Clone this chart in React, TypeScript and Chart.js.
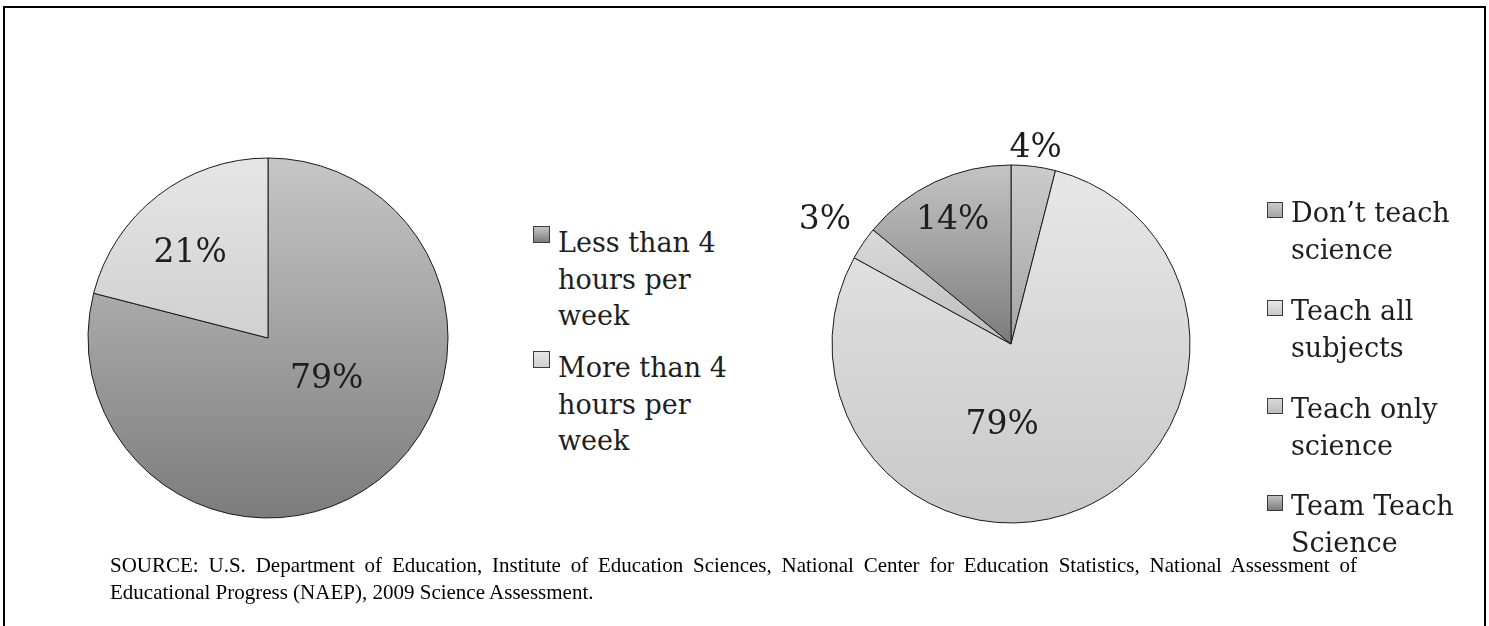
import React, { useEffect, useRef } from "react";
import { Chart, registerables } from "chart.js";

Chart.register(...registerables);

// ---------- DATA ----------
const hoursLabels = ["Less than 4 hours per week", "More than 4 hours per week"];
const hoursLegendLines = [
  ["Less than 4", "hours per", "week"],
  ["More than 4", "hours per", "week"],
];
const hoursValues = [79, 21];

const teachLabels = [
  "Don’t teach science",
  "Teach all subjects",
  "Teach only science",
  "Team Teach Science",
];
const teachLegendLines = [
  ["Don’t teach", "science"],
  ["Teach all", "subjects"],
  ["Teach only", "science"],
  ["Team Teach", "Science"],
];
const teachValues = [4, 79, 3, 14];

const sourceLine1 =
  "SOURCE: U.S. Department of Education, Institute of Education Sciences, National Center for Education Statistics, National Assessment of";
const sourceLine2 = "Educational Progress (NAEP), 2009 Science Assessment.";

// ---------- STYLE ----------
const hoursColors = [
  ["#c6c6c6", "#7c7c7c"],
  ["#e6e6e6", "#d0d0d0"],
];
const teachColors = [
  ["#cbcbcb", "#a4a4a4"],
  ["#e7e7e7", "#c8c8c8"],
  ["#dadada", "#bdbdbd"],
  ["#c4c4c4", "#7c7c7c"],
];

// label placement: distance as fraction of radius, angular shift (deg)
const hoursPlacement = [
  { dist: 0.4, shift: -16.8 },
  { dist: 0.64, shift: -4.7 },
];
const teachPlacement = [
  { dist: 1.1, shift: 0 },
  { dist: 0.455, shift: 29.7 },
  { dist: 1.246, shift: -0.7 },
  { dist: 0.765, shift: 0 },
];

function sliceGradient(colors: string[][]) {
  return (c: any) => {
    const chart = c.chart;
    const area = chart.chartArea;
    const i = c.dataIndex;
    if (!area || i === undefined || c.type !== "data") return colors[0][0];
    const data = chart.data.datasets[c.datasetIndex].data as number[];
    const total = data.reduce((a, b) => a + b, 0);
    let cum = 0;
    for (let k = 0; k < i; k++) cum += data[k];
    const a0 = -Math.PI / 2 + (2 * Math.PI * cum) / total;
    const a1 = a0 + (2 * Math.PI * data[i]) / total;
    const cy = (area.top + area.bottom) / 2;
    const r = (Math.min(area.width, area.height) - 1) / 2;
    const ys = [cy, cy + r * Math.sin(a0), cy + r * Math.sin(a1)];
    for (const k of [-Math.PI / 2, Math.PI / 2, (3 * Math.PI) / 2]) {
      if (k >= a0 - 1e-9 && k <= a1 + 1e-9) ys.push(cy + r * Math.sin(k));
    }
    const g = chart.ctx.createLinearGradient(0, Math.min(...ys), 0, Math.max(...ys));
    g.addColorStop(0, colors[i][0]);
    g.addColorStop(1, colors[i][1]);
    return g;
  };
}

function makeLabelPlugin(placement: { dist: number; shift: number }[]) {
  return {
    id: "sliceLabels",
    afterDatasetsDraw(chart: any) {
      const ctx = chart.ctx;
      const meta = chart.getDatasetMeta(0);
      const values = chart.data.datasets[0].data as number[];
      ctx.save();
      ctx.font = '33px "DejaVu Serif"';
      ctx.fillStyle = "#1e1e1e";
      ctx.textAlign = "center";
      ctx.textBaseline = "middle";
      meta.data.forEach((arc: any, i: number) => {
        const { x, y, startAngle, endAngle, outerRadius } = arc.getProps(
          ["x", "y", "startAngle", "endAngle", "outerRadius"],
          true
        );
        const p = placement[i];
        const mid = (startAngle + endAngle) / 2 + (p.shift * Math.PI) / 180;
        const d = outerRadius * p.dist;
        ctx.fillText(values[i] + "%", x + Math.cos(mid) * d, y + Math.sin(mid) * d);
      });
      ctx.restore();
    },
  };
}

function PieChart(props: {
  values: number[];
  labels: string[];
  colors: string[][];
  placement: { dist: number; shift: number }[];
  size: number;
  left: number;
  top: number;
  radius: number;
}) {
  const ref = useRef<HTMLCanvasElement>(null);
  useEffect(() => {
    const pad = (props.size - (2 * props.radius + 1)) / 2;
    const chart = new Chart(ref.current as HTMLCanvasElement, {
      type: "pie",
      data: {
        labels: props.labels,
        datasets: [
          {
            data: props.values,
            backgroundColor: sliceGradient(props.colors) as any,
            borderColor: "#1a1a1a",
            borderWidth: 1,
          },
        ],
      },
      options: {
        responsive: false,
        maintainAspectRatio: false,
        animation: false,
        events: [],
        layout: { padding: pad },
        plugins: { legend: { display: false }, tooltip: { enabled: false } },
      },
      plugins: [makeLabelPlugin(props.placement)],
    });
    return () => chart.destroy();
  }, []);
  return (
    <canvas
      ref={ref}
      width={props.size}
      height={props.size}
      style={{ position: "absolute", left: props.left, top: props.top, width: props.size, height: props.size }}
    />
  );
}

function Legend(props: {
  items: string[][];
  colors: string[][];
  left: number;
  top: number;
  lineHeight: number;
  gap: number;
  textLeft: number;
  markerTop: number;
  markerSize: number;
}) {
  return (
    <div
      style={{
        position: "absolute",
        left: props.left,
        top: props.top,
        fontFamily: '"DejaVu Serif", serif',
        fontSize: 27,
        lineHeight: props.lineHeight + "px",
        color: "#1e1e1e",
        zIndex: 2,
      }}
    >
      {props.items.map((lines, i) => (
        <div key={i} style={{ position: "relative", paddingLeft: props.textLeft, marginTop: i ? props.gap : 0 }}>
          <span
            style={{
              position: "absolute",
              left: 0,
              top: props.markerTop,
              width: props.markerSize,
              height: props.markerSize,
              boxSizing: "border-box",
              border: "1px solid #3a3a3a",
              background: `linear-gradient(${props.colors[i][0]}, ${props.colors[i][1]})`,
            }}
          />
          {lines.map((l, j) => (
            <div key={j} style={{ whiteSpace: "nowrap" }}>
              {l}
            </div>
          ))}
        </div>
      ))}
    </div>
  );
}

export default function App() {
  return (
    <div
      style={{
        position: "fixed",
        left: 0,
        top: 0,
        width: 1489,
        height: 626,
        overflow: "hidden",
        background: "#fff",
      }}
    >
      <div
        style={{
          position: "absolute",
          left: 3,
          top: 6,
          width: 1479,
          height: 700,
          border: "2px solid #000",
        }}
      />
      <PieChart
        values={hoursValues}
        labels={hoursLabels}
        colors={hoursColors}
        placement={hoursPlacement}
        size={520}
        left={8}
        top={78}
        radius={180}
      />
      <PieChart
        values={teachValues}
        labels={teachLabels}
        colors={teachColors}
        placement={teachPlacement}
        size={560}
        left={731}
        top={64}
        radius={179}
      />
      <Legend
        items={hoursLegendLines}
        colors={hoursColors}
        left={533}
        top={225.4}
        lineHeight={36.5}
        gap={15.5}
        textLeft={25}
        markerTop={1}
        markerSize={17}
      />
      <Legend
        items={teachLegendLines}
        colors={teachColors}
        left={1267}
        top={194.2}
        lineHeight={37}
        gap={23.7}
        textLeft={24}
        markerTop={8}
        markerSize={16}
      />
      <div
        style={{
          position: "absolute",
          left: 110,
          top: 552.4,
          width: 1247,
          fontFamily: '"Liberation Serif", "Times New Roman", serif',
          fontSize: 21,
          lineHeight: "27px",
          color: "#000",
          zIndex: 3,
        }}
      >
        <div style={{ textAlign: "justify", textAlignLast: "justify", whiteSpace: "nowrap" }}>{sourceLine1}</div>
        <div style={{ whiteSpace: "nowrap" }}>{sourceLine2}</div>
      </div>
    </div>
  );
}
